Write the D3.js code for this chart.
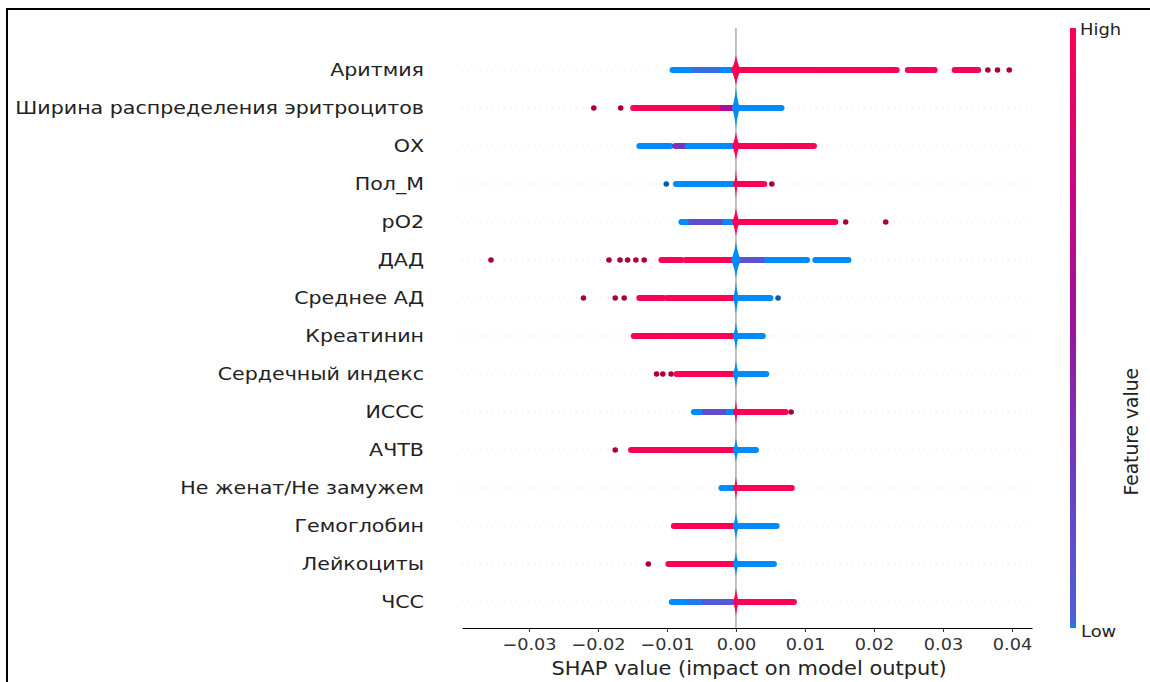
<!DOCTYPE html>
<html>
<head>
<meta charset="utf-8">
<script src="https://cdn.jsdelivr.net/npm/d3@7"></script>
<style>
  body { margin: 0; background: #fff; }
  text { font-family: "DejaVu Sans", sans-serif; }
</style>
</head>
<body>
<svg id="chart" width="1150" height="682"></svg>
<script>

// features, top to bottom
const features = ['Аритмия', 'Ширина распределения эритроцитов', 'ОХ', 'Пол_М', 'pО2', 'ДАД',
    'Среднее АД', 'Креатинин', 'Сердечный индекс', 'ИССС', 'АЧТВ', 'Не женат/Не замужем',
    'Гемоглобин', 'Лейкоциты', 'ЧСС'];

// dense runs of points: [feature, shap from, shap to, feature value 0..1]
const bands = [
    [0, -0.0092, -0.0060, 0], [0, -0.0060, -0.0020, 0.008], [0, -0.0020, 0, 0],
    [0, 0, 0.0128, 1], [0, 0.0128, 0.0170, 0.97], [0, 0.0172, 0.0212, 0.97],
    [0, 0.0216, 0.0233, 0.97], [0, 0.0249, 0.0288, 0.95], [0, 0.0317, 0.0351, 0.95],
    [1, -0.0149, -0.0020, 1], [1, -0.0020, 0, 0.6], [1, 0, 0.0066, 0],
    [2, -0.0140, -0.0095, 0], [2, -0.0088, -0.0070, 0.3], [2, -0.0070, 0, 0],
    [2, 0, 0.0072, 1], [2, 0.0072, 0.0113, 0.97],
    [3, -0.0087, 0, 0], [3, 0, 0.0041, 1],
    [4, -0.0079, -0.0065, 0], [4, -0.0065, -0.0015, 0.15], [4, -0.0015, 0, 0], [4, 0, 0.0144, 1],
    [5, -0.0108, -0.0079, 0.97], [5, -0.0073, 0, 1], [5, 0, 0.0045, 0.1],
    [5, 0.0045, 0.0103, 0], [5, 0.0115, 0.0163, 0],
    [6, -0.0140, -0.0105, 0.97], [6, -0.0100, 0, 1], [6, 0, 0.0050, 0],
    [7, -0.0148, -0.0100, 0.97], [7, -0.0100, 0, 1], [7, 0, 0.0039, 0],
    [8, -0.0086, 0, 1], [8, 0, 0.0044, 0],
    [9, -0.0061, -0.0045, 0], [9, -0.0045, -0.0010, 0.15], [9, -0.0010, 0, 0], [9, 0, 0.0072, 1],
    [10, -0.0152, -0.0081, 0.97], [10, -0.0081, 0, 1], [10, 0, 0.0029, 0],
    [11, -0.0021, 0, 0], [11, 0, 0.0081, 1],
    [12, -0.0090, -0.0074, 0.97], [12, -0.0074, 0, 1], [12, 0, 0.0059, 0],
    [13, -0.0098, -0.0085, 0.97], [13, -0.0083, 0, 1], [13, 0, 0.0055, 0],
    [14, -0.0093, -0.0068, 0], [14, -0.0068, -0.0045, 0.005], [14, -0.0045, -0.0005, 0.05],
    [14, 0, 0.0065, 1], [14, 0.0065, 0.0084, 0.97]
];

// single points: [feature, shap, feature value]
const dots = [
    [0, 0.0365, 0.95], [0, 0.0379, 0.95], [0, 0.0396, 0.95],
    [1, -0.0206, 1], [1, -0.0167, 1],
    [3, -0.0101, 0], [3, 0.0052, 1],
    [4, 0.0159, 1], [4, 0.0217, 1],
    [5, -0.0355, 1], [5, -0.0184, 1], [5, -0.0168, 1], [5, -0.0157, 1], [5, -0.0145, 1], [5, -0.0133, 1],
    [6, -0.0221, 1], [6, -0.0175, 1], [6, -0.0162, 1], [6, 0.0061, 0],
    [8, -0.0115, 1], [8, -0.0106, 1], [8, -0.0094, 1],
    [9, 0.0080, 1],
    [10, -0.0175, 1],
    [13, -0.0127, 1]
];

// pile-up at zero: feature value, half height, half width (px)
const spikeColor = [1, 0, 1, 1, 1, 0, 0, 0, 0, 1, 0, 1, 0, 0, 1];
const spikeHalf = [15, 20, 14, 14, 14, 18, 16, 14, 14, 12, 12, 12, 14, 12, 14];
const spikeWide = [5, 4, 4, 2, 4, 5, 3, 3, 3, 2, 3, 2, 3, 3, 3];

const xTicks = [-0.03, -0.02, -0.01, 0, 0.01, 0.02, 0.03, 0.04];

// colour bar stops
const cbStops = [0, 0.012, 0.25, 0.5, 0.75, 1];
const cbColors = ['#008bfb', '#4f5fd8', '#6a40c0', '#9a12a2', '#cc0680', '#ff0052'];

let svg = d3.select('#chart');

let x = d3.scaleLinear().domain([-0.0397, 0.0429]).range([462, 1032]);
let y = d3.scalePoint().domain(d3.range(features.length)).range([70, 602]);
let color = d3.scaleLinear().domain(cbStops).range(cbColors);

const plotTop = 28, plotBottom = 628;
const sx = 1.12; // the picture is a little wider than tall

// frame
svg.append('path')
    .attr('d', 'M7,682V9H1150')
    .attr('fill', 'none')
    .attr('stroke', '#000')
    .attr('stroke-width', 2);

// row guides
svg.append('g').selectAll('line').data(features).join('line')
    .attr('x1', x.range()[0]).attr('x2', x.range()[1])
    .attr('y1', (d, i) => y(i)).attr('y2', (d, i) => y(i))
    .attr('stroke', '#cccccc')
    .attr('stroke-width', 0.6)
    .attr('stroke-dasharray', '1,5');

svg.append('line')
    .attr('x1', x(0)).attr('x2', x(0))
    .attr('y1', plotTop).attr('y2', plotBottom)
    .attr('stroke', '#999999')
    .attr('stroke-width', 1.2);

// feature labels
svg.append('g').selectAll('text').data(features).join('text')
    .attr('transform', (d, i) => `translate(424,${y(i)}) scale(${sx},1)`)
    .attr('dy', '0.35em')
    .attr('text-anchor', 'end')
    .attr('font-size', 18.4)
    .attr('fill', '#222')
    .text(d => d);

const band = 6;
svg.append('g').selectAll('rect').data(bands).join('rect')
    .attr('x', d => x(d[1]) - band/2)
    .attr('width', d => x(d[2]) - x(d[1]) + band)
    .attr('y', d => y(d[0]) - band/2)
    .attr('height', band)
    .attr('rx', band/2)
    .attr('fill', d => color(d[3]));

svg.append('g').selectAll('circle').data(dots).join('circle')
    .attr('cx', d => x(d[1]))
    .attr('cy', d => y(d[0]))
    .attr('r', 2.8)
    .attr('fill', d => d3.color(color(d[2])).darker(1.1));

// spindles at zero
const spindle = (h, w) => `M0,${-h}Q${w*0.35},${-h*0.35} ${w},0Q${w*0.35},${h*0.35} 0,${h}` +
    `Q${-w*0.35},${h*0.35} ${-w},0Q${-w*0.35},${-h*0.35} 0,${-h}Z`;
svg.append('g').selectAll('path').data(features).join('path')
    .attr('transform', (d, i) => `translate(${x(0)},${y(i)})`)
    .attr('d', (d, i) => spindle(spikeHalf[i], spikeWide[i]))
    .attr('fill', (d, i) => color(spikeColor[i]));

// x axis
let axis = svg.append('g')
    .attr('transform', `translate(0,${plotBottom})`)
    .call(d3.axisBottom(x).tickValues(xTicks).tickFormat(d3.format('.2f')).tickSize(4).tickSizeOuter(0).tickPadding(7));
axis.select('.domain').attr('stroke', '#000').attr('stroke-width', 1.2);
axis.selectAll('.tick line').attr('stroke', '#333');
axis.selectAll('.tick text')
    .attr('font-size', 15.8).attr('fill', '#333').attr('font-family', 'DejaVu Sans')
    .attr('transform', `scale(${sx},1)`);

svg.append('text')
    .attr('transform', `translate(${x(0.0019)},675) scale(${sx},1)`)
    .attr('text-anchor', 'middle')
    .attr('font-size', 18.7)
    .attr('fill', '#222')
    .text('SHAP value (impact on model output)');

// colour bar
let defs = svg.append('defs');
let grad = defs.append('linearGradient').attr('id', 'cbar')
    .attr('x1', 0).attr('y1', 1).attr('x2', 0).attr('y2', 0);
grad.selectAll('stop').data(d3.range(0, 1.0001, 0.01)).join('stop')
    .attr('offset', d => d)
    .attr('stop-color', d => color(d));

let cb = d3.scaleLinear().domain([0, 1]).range([plotBottom, plotTop]);
svg.append('rect')
    .attr('x', 1070).attr('width', 6)
    .attr('y', cb(1)).attr('height', cb(0) - cb(1))
    .attr('fill', 'url(#cbar)');

svg.append('text').attr('transform', `translate(1080,${cb(1) + 7}) scale(${sx},1)`)
    .attr('font-size', 16).attr('fill', '#222').text('High');
svg.append('text').attr('transform', `translate(1081,${cb(0) + 9}) scale(${sx},1)`)
    .attr('font-size', 16).attr('fill', '#222').text('Low');
svg.append('text')
    .attr('transform', `translate(1138,${cb(0.327)}) rotate(-90)`)
    .attr('text-anchor', 'middle')
    .attr('font-size', 18.7)
    .attr('fill', '#222')
    .text('Feature value');
</script>
</body>
</html>
